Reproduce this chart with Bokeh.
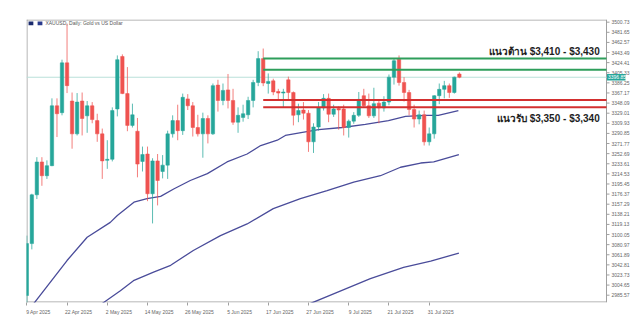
from bokeh.plotting import figure
from bokeh.models import Range1d, LinearAxis, FixedTicker, ColumnDataSource
from bokeh.core.properties import value
from bokeh.embed import file_html
from bokeh.resources import INLINE

# ---- data ----
opens = [2985, 3083, 3175, 3237, 3211, 3230, 3343, 3330, 3424, 3352,
         3290, 3352, 3324, 3343, 3315, 3290, 3240, 3242, 3337, 3436,
         3366, 3306, 3295, 3238, 3252, 3177, 3239, 3219, 3231, 3290,
         3315, 3296, 3356, 3343, 3302, 3290, 3319, 3290, 3382, 3353,
         3373, 3353, 3312, 3321, 3326, 3353, 3387, 3432, 3385, 3390,
         3370, 3367, 3392, 3368, 3326, 3335, 3329, 3275, 3303, 3339,
         3357, 3327, 3338, 3337, 3302, 3314, 3325, 3362, 3343, 3324,
         3348, 3339, 3350, 3397, 3431, 3387, 3368, 3336, 3318, 3326,
         3275, 3290, 3362, 3374, 3381, 3368, 3403]
highs = [3098, 3177, 3246, 3246, 3240, 3357, 3357, 3430, 3498, 3368,
         3367, 3368, 3352, 3350, 3328, 3300, 3278, 3340, 3438, 3440,
         3416, 3347, 3320, 3266, 3266, 3244, 3252, 3250, 3296, 3325,
         3345, 3366, 3365, 3350, 3326, 3330, 3325, 3385, 3392, 3385,
         3403, 3375, 3340, 3345, 3360, 3392, 3446, 3451, 3404, 3394,
         3375, 3375, 3398, 3370, 3347, 3350, 3335, 3310, 3350, 3365,
         3366, 3345, 3342, 3345, 3317, 3331, 3369, 3375, 3366, 3377,
         3352, 3361, 3402, 3433, 3438, 3397, 3373, 3345, 3334, 3334,
         3302, 3363, 3385, 3390, 3385, 3398, 3406]
lows = [2960, 3072, 3167, 3192, 3205, 3229, 3284, 3325, 3367, 3262,
        3287, 3287, 3292, 3310, 3275, 3205, 3224, 3238, 3323, 3365,
        3295, 3302, 3208, 3219, 3163, 3121, 3155, 3206, 3205, 3283,
        3278, 3288, 3335, 3285, 3285, 3245, 3272, 3288, 3332, 3344,
        3338, 3307, 3292, 3313, 3318, 3340, 3380, 3380, 3366, 3363,
        3354, 3340, 3355, 3306, 3312, 3317, 3256, 3254, 3296, 3334,
        3312, 3322, 3298, 3287, 3283, 3309, 3322, 3341, 3320, 3320,
        3310, 3332, 3344, 3383, 3381, 3351, 3325, 3302, 3308, 3268,
        3268, 3281, 3346, 3357, 3358, 3366, 3395]
closes = [3083, 3175, 3237, 3211, 3230, 3343, 3328, 3424, 3381, 3290,
          3350, 3319, 3343, 3317, 3290, 3239, 3242, 3334, 3430, 3366,
          3306, 3326, 3233, 3251, 3177, 3239, 3202, 3231, 3290, 3315,
          3296, 3359, 3343, 3302, 3290, 3319, 3290, 3381, 3353, 3372,
          3353, 3312, 3325, 3328, 3353, 3387, 3432, 3386, 3389, 3369,
          3367, 3369, 3368, 3325, 3334, 3329, 3275, 3303, 3339, 3357,
          3327, 3337, 3335, 3302, 3314, 3325, 3355, 3343, 3324, 3347,
          3339, 3350, 3397, 3428, 3387, 3368, 3336, 3318, 3326, 3275,
          3290, 3362, 3374, 3381, 3368, 3397, 3396.85]

date_tick_idx = [0, 8, 16, 24, 32, 40, 48, 56, 64, 72, 80]
date_tick_labels = ["9 Apr 2025", "22 Apr 2025", "2 May 2025", "14 May 2025",
                    "26 May 2025", "5 Jun 2025", "17 Jun 2025", "27 Jun 2025",
                    "9 Jul 2025", "21 Jul 2025", "31 Jul 2025"]
price_ticks = [3500.73, 3481.65, 3462.57, 3443.49, 3424.41, 3405.33, 3386.25,
               3367.17, 3348.09, 3329.01, 3309.93, 3290.85, 3271.77, 3252.69,
               3233.61, 3214.53, 3195.45, 3176.37, 3157.29, 3138.21, 3119.13,
               3100.05, 3080.97, 3061.89, 3042.81, 3023.73, 3004.65, 2985.57]

ma1_x = [1.4, 8, 12, 16.6, 18, 21.3, 23.9, 26.6, 29.2, 32.5, 35.9, 39.8, 43.8,
         46.5, 49.8, 51.4, 54.8, 58, 62.7, 67.3, 71.9, 75.3, 79.3, 81.8, 85.8]
ma1_y = [2970, 3051, 3095, 3123, 3136, 3161, 3168, 3172, 3186, 3202, 3215, 3237,
         3252, 3268, 3278, 3287, 3293, 3298, 3302, 3308, 3315, 3323, 3325, 3325, 3334]
ma2_x = [15.0, 18.6, 21.2, 25.2, 28.6, 33.1, 38.5, 43.8, 49.0, 54.4, 59.7, 65.0,
         70.3, 74.3, 78.3, 80.9, 85.9]
ma2_y = [2970, 2994, 3013, 3029, 3042, 3070, 3098, 3120, 3149, 3168, 3183, 3199,
         3211, 3227, 3235, 3237, 3251]
ma3_x = [56.4, 61.7, 68.3, 74.9, 80.3, 85.9]
ma3_y = [2970, 2991, 3017, 3038, 3050, 3065]

resistance = [3432, 3411]
support = [3354, 3340]
zone_start = 47
resistance_text = "แนวต้าน $3,410 - $3,430"
support_text = "แนวรับ $3,350 - $3,340"
title_text = "XAUUSD, Daily:  Gold vs US Dollar"

# ---- styling ----
UP = "#26a69a"
DOWN = "#ef5350"
MA_COL = "#4a4c9a"
FRAME = "#a0a0a0"
FONT = "Liberation Sans"

n = len(opens)
xs = list(range(n))
colors = [UP if c >= o else DOWN for o, c in zip(opens, closes)]
src = ColumnDataSource(dict(
    x=xs, high=highs, low=lows,
    top=[max(o, c) for o, c in zip(opens, closes)],
    bottom=[min(o, c) for o, c in zip(opens, closes)],
    color=colors))

PX = 5.03            # pixels per bar
UPP = 1.887          # price units per pixel
X0 = -0.06
XE = 115.25          # chart edge (price scale begins here)
X1 = X0 + 614 / PX   # frame extends over the price scale
Y0, Y1 = 2971.8, 3505.8

p = figure(width=640, height=321, output_backend="svg", toolbar_location=None,
           x_range=Range1d(X0, X1), y_range=Range1d(Y0, Y1),
           x_axis_location=None, y_axis_location=None,
           min_border_left=26, min_border_right=0, min_border_top=19,
           min_border_bottom=19)
p.xgrid.visible = False
p.ygrid.visible = False
p.outline_line_color = None
p.background_fill_color = "white"
p.border_fill_color = "white"

# chart frame (left, top, bottom, right)
p.segment(x0=[X0 + 0.5 / PX, X0, X0, XE], x1=[X0 + 0.5 / PX, XE, XE, XE],
          y0=[Y0, Y1 - 0.5 * UPP, Y0 + 0.5 * UPP, Y0],
          y1=[Y1, Y1 - 0.5 * UPP, Y0 + 0.5 * UPP, Y1],
          line_color=FRAME, line_width=1)

# current price line
cur = closes[-1]
p.segment(x0=[X0], x1=[XE], y0=[cur], y1=[cur], line_color="#b9e0da", line_width=1)

# moving averages
for mx, my in ((ma1_x, ma1_y), (ma2_x, ma2_y), (ma3_x, ma3_y)):
    p.line(mx, my, line_color=MA_COL, line_width=1.3)

# candles
p.segment(x0="x", x1="x", y0="high", y1="low", color="color", line_width=1,
          line_alpha=0.75, source=src)
p.vbar(x="x", width=0.68, top="top", bottom="bottom", fill_color="color",
       line_color="color", line_width=0.5, source=src)

# zones
p.segment(x0=[zone_start] * 2, x1=[XE] * 2, y0=resistance, y1=resistance,
          line_color="#2e9e5b", line_width=2)
p.segment(x0=[zone_start] * 2, x1=[XE] * 2, y0=support, y1=support,
          line_color="#d32f2f", line_width=2)

p.text(x=[113.9], y=[3446], text=[resistance_text], text_align="right",
       text_baseline="middle", text_font=value(FONT), text_font_style="bold",
       text_font_size="10px", text_color="#1e1e1e")
p.text(x=[113.9], y=[3319], text=[support_text], text_align="right",
       text_baseline="middle", text_font=value(FONT), text_font_style="bold",
       text_font_size="10px", text_color="#1e1e1e")

# title
p.quad(left=[0.35, 2.15], right=[1.3, 3.1], top=[3502, 3502], bottom=[3495, 3495],
       fill_color=["#1a2a6c", "#2a3a8c"], line_color=None)
p.text(x=[3.7], y=[3498.5], text=[title_text], text_baseline="middle",
       text_font=value(FONT), text_font_size="5px", text_color="#555555")

# price scale on the right
n_pt = len(price_ticks)
p.segment(x0=[XE] * n_pt, x1=[XE + 3 / PX] * n_pt, y0=price_ticks, y1=price_ticks,
          line_color=FRAME, line_width=1)
p.text(x=[XE + 5 / PX] * n_pt, y=price_ticks, text=[f"{v:.2f}" for v in price_ticks],
       text_baseline="middle", text_align="left", text_font=value(FONT),
       text_font_size="5px", text_color="#666666")

# current price tag
p.quad(left=[XE + 0.1], right=[XE + 19 / PX], top=[cur + 3.2 * UPP],
       bottom=[cur - 3.2 * UPP], fill_color=UP, line_color=None)
p.text(x=[XE + 1.5 / PX], y=[cur], text=[f"{cur:.2f}"], text_baseline="middle",
       text_align="left", text_font=value(FONT), text_font_size="5px",
       text_color="white")

# bottom date axis: labels start at their tick
shift = 2.3
lbl_pos = [t + shift for t in date_tick_idx]
bx = LinearAxis(ticker=FixedTicker(ticks=lbl_pos, minor_ticks=date_tick_idx))
bx.major_label_overrides = {pos: lab for pos, lab in zip(lbl_pos, date_tick_labels)}
bx.major_label_text_font = FONT
bx.major_label_text_font_size = "5px"
bx.major_label_text_color = "#666666"
bx.major_tick_out = 0
bx.major_tick_in = 0
bx.minor_tick_out = 3
bx.minor_tick_in = 0
bx.minor_tick_line_color = FRAME
bx.major_label_standoff = 3
bx.axis_line_color = None
p.add_layout(bx, "below")

open("out.html", "w").write(file_html(p, INLINE))
